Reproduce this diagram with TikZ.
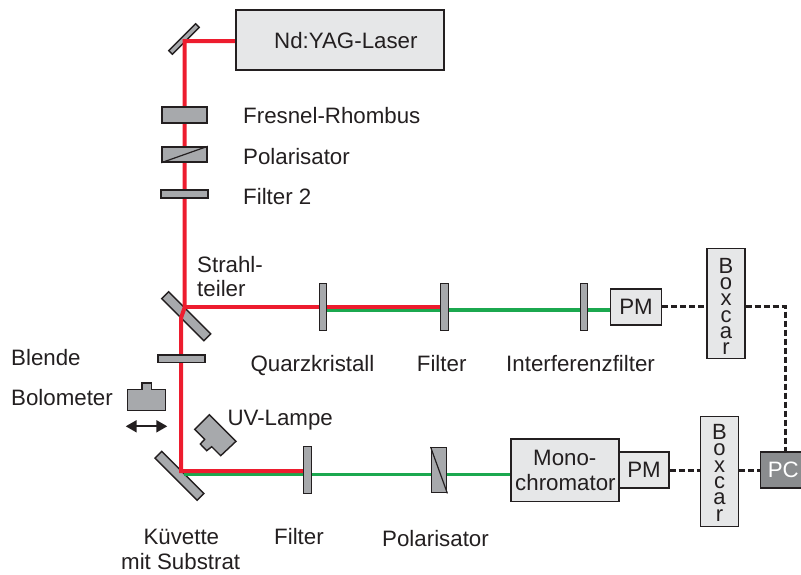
\documentclass[tikz,border=0pt]{standalone}
\usepackage{fontspec}
\setmainfont{Liberation Sans}
\usetikzlibrary{arrows.meta,backgrounds}
\definecolor{ink}{HTML}{231F20}
\definecolor{beamred}{HTML}{ED1C2E}
\definecolor{beamgreen}{HTML}{1BA84F}
\definecolor{optic}{HTML}{A7A9AC}
\definecolor{boxgray}{HTML}{E6E7E8}
\definecolor{pcgray}{HTML}{8A8C8E}
\tikzset{
  lbl/.style={anchor=base west,inner sep=0pt,text=ink,font=\fontsize{22.3}{26}\selectfont},
  stack/.style={inner sep=0pt,text=ink,align=center,font=\fontsize{22}{16.3}\selectfont},
  plate/.style n args={2}{draw=ink,fill=optic,line width=1.4pt,inner sep=0pt,minimum width=#1,minimum height=#2},
  device/.style n args={2}{draw=ink,fill=boxgray,line width=1.4pt,inner sep=0pt,minimum width=#1,minimum height=#2,text=ink,font=\fontsize{22.3}{26}\selectfont},
  redbeam/.style={draw=beamred,line width=4pt},
  greenbeam/.style={draw=beamgreen,line width=3.2pt},
  signal/.style={draw=ink,line width=3pt,dash pattern=on 6pt off 3pt},
}
\begin{document}
\begin{tikzpicture}[x=1pt,y=-1pt]
\useasboundingbox (0,0) rectangle (801,574);
% devices
\node[device={208pt}{60pt}] (laser) at (340,40) {};
\node[lbl] (laserlabel) at (274,48) {Nd:YAG-Laser};
\node[plate={45pt}{16pt}] (fresnel) at (184.5,115) {};
\node[plate={45pt}{15pt}] (pol1) at (184.5,154.5) {};
\draw[ink,line width=1.2pt] (pol1.south west) -- (pol1.north east);
\node[plate={47pt}{8pt}] (filtertwo) at (184.5,194) {};
\node[plate={47pt}{7.5pt}] (blende) at (181.5,358.7) {};
\node[plate={7.5pt}{46.6pt}] (quarz) at (323,307) {};
\node[plate={7.5pt}{46.6pt}] (filtertop) at (444.5,307) {};
\node[plate={7.5pt}{46.6pt}] (interf) at (584,307) {};
\node[plate={7.5pt}{46.6pt}] (filterbot) at (307.5,470) {};
\node[plate={15.4pt}{45pt}] (pol2) at (439,470.2) {};
\draw[ink,line width=1.2pt] (pol2.north west) -- (pol2.south east);
\node[device={108pt}{62.7pt}] (mono) at (565,470.3) {};
\node[device={50.6pt}{36pt}] (pmtop) at (636,307) {PM};
\node[device={50pt}{36pt}] (pmbot) at (644,470) {PM};
\node[device={38pt}{110pt}] (boxtop) at (726,303.7) {};
\node[stack] (boxtoplabel) at (726,306.5) {B\\o\\x\\c\\a\\r};
\node[device={38.4pt}{110pt}] (boxbot) at (719.5,471.7) {};
\node[stack] (boxbotlabel) at (719.5,472.7) {B\\o\\x\\c\\a\\r};
\node[draw=ink,fill=pcgray,line width=1.4pt,inner sep=0pt,minimum width=46pt,minimum height=36pt,text=white,font=\fontsize{22.3}{26}\selectfont] (pc) at (783.3,470) {PC};
% bolometer and lamp
\draw[draw=ink,fill=optic,line width=1.4pt] (127.7,389.3) -- (142,389.3) -- (142,383) -- (151.7,383) -- (151.7,389.3) -- (165.7,389.3) -- (165.7,410.3) -- (127.7,410.3) -- cycle;
\draw[draw=ink,fill=optic,line width=1.4pt] (209.3,414.7) -- (236,441.3) -- (220.7,455.7) -- (211.7,446.7) -- (206.7,450.7) -- (200.3,444) -- (204.7,439.3) -- (194.7,429.3) -- cycle;
\coordinate (arrowl) at (125.7,426.3);
\coordinate (arrowr) at (167.3,426.3);
\draw[ink,line width=2pt,{Stealth[length=11pt,width=12pt,inset=0pt]}-{Stealth[length=11pt,width=12pt,inset=0pt]}] (arrowl) -- (arrowr);
% labels
\node[lbl] (t1) at (243,123) {Fresnel-Rhombus};
\node[lbl] (t2) at (243,164) {Polarisator};
\node[lbl] (t3) at (243,204) {Filter 2};
\node[lbl] (t4) at (197,272) {Strahl-};
\node[lbl] (t5) at (197,296) {teiler};
\node[lbl] (t6) at (250.3,371) {Quarzkristall};
\node[lbl] (t7) at (416.7,371) {Filter};
\node[lbl] (t8) at (506,371) {Interferenzfilter};
\node[lbl] (t9) at (11,365) {Blende};
\node[lbl] (t10) at (11,405) {Bolometer};
\node[lbl] (t11) at (227.3,425) {UV-Lampe};
\node[lbl] (t12) at (143.3,544.3) {Küvette};
\node[lbl] (t13) at (121,569.3) {mit Substrat};
\node[lbl] (t14) at (274,544.3) {Filter};
\node[lbl] (t15) at (382,546) {Polarisator};
\node[lbl] (t16) at (533,465) {Mono-};
\node[lbl] (t17) at (515,490) {chromator};
% signals
\coordinate (corner) at (785.7,306.7);
\draw[signal] (pmtop.east |- 0,306.7) -- (boxtop.west |- 0,306.7);
\draw[signal] (boxtop.east |- 0,306.7) -- (corner) -- (corner |- pc.north);
\draw[signal] (pmbot.east) -- (boxbot.west |- pmbot.east);
\draw[signal] (boxbot.east |- pc.west) -- (pc.west);
% beams and mirrors
\begin{pgfonlayer}{background}
\node[plate={38pt}{5pt},rotate=45] (mirrortop) at (184,39) {};
\node[plate={59.6pt}{9.8pt},rotate=-45] (splitter) at (186.2,316.2) {};
\node[plate={59.6pt}{9.6pt},rotate=-45] (mirrorbot) at (179.5,475.8) {};
\coordinate (mt) at (184.5,41);
\coordinate (st) at (184.7,307.3);
\coordinate (sb) at (181,318);
\coordinate (mb) at (181,471);
\draw[greenbeam] (184,474.7) -- (mono.west |- 0,474.7);
\draw[greenbeam] (quarz.center |- 0,310) -- (pmtop.west |- 0,310);
\draw[redbeam] (laser.west |- mt) -- (mt) -- (st) -- (sb) -- (mb) -- (filterbot.west |- mb);
\draw[redbeam] (st) -- (filtertop.west |- st);
\end{pgfonlayer}
\end{tikzpicture}
\end{document}
